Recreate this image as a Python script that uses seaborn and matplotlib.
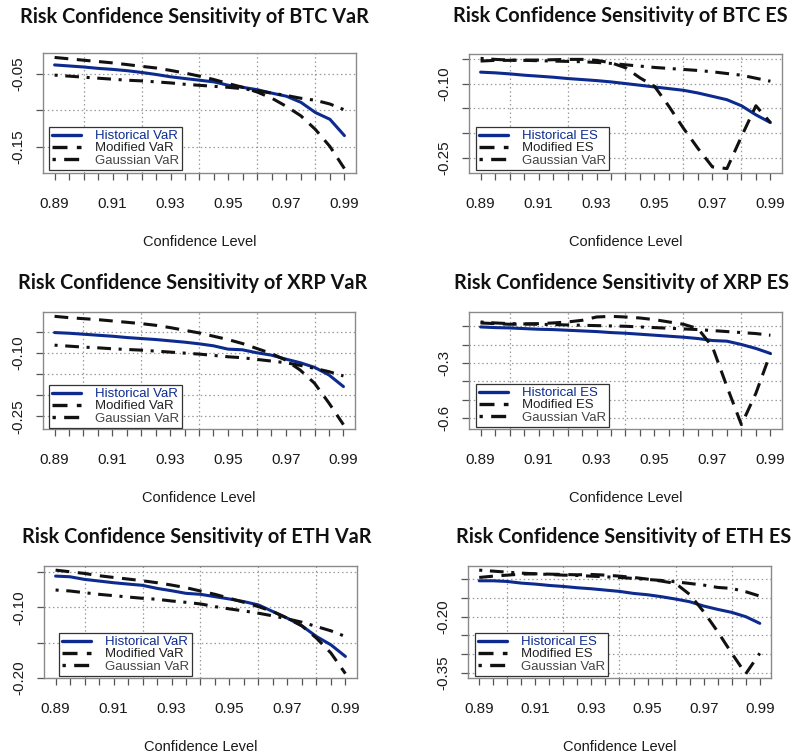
import matplotlib
matplotlib.use("Agg")
import matplotlib.pyplot as plt
import seaborn as sns
import pandas as pd

# ---------------- data ----------------
conf = [0.890, 0.895, 0.900, 0.905, 0.910, 0.915, 0.920, 0.925, 0.930, 0.935, 0.940,
        0.945, 0.950, 0.955, 0.960, 0.965, 0.970, 0.975, 0.980, 0.985, 0.990]

btc_var_hist = [-0.0374, -0.0388, -0.0402, -0.0421, -0.0435, -0.0453, -0.0477, -0.0505, -0.0537, -0.0561, -0.0584,
                -0.0607, -0.0654, -0.0682, -0.0715, -0.0762, -0.0804, -0.0888, -0.1028, -0.1121, -0.1345]
btc_var_mod = [-0.0271, -0.0290, -0.0309, -0.0327, -0.0346, -0.0369, -0.0393, -0.0416, -0.0449, -0.0486, -0.0528,
               -0.0575, -0.0631, -0.0682, -0.0748, -0.0832, -0.0944, -0.1074, -0.1261, -0.1495, -0.1798]
btc_var_gau = [-0.0514, -0.0528, -0.0542, -0.0556, -0.0570, -0.0584, -0.0593, -0.0607, -0.0621, -0.0640, -0.0654,
               -0.0668, -0.0682, -0.0701, -0.0729, -0.0762, -0.0794, -0.0832, -0.0860, -0.0911, -0.0991]

btc_es_hist = [-0.0760, -0.0774, -0.0795, -0.0822, -0.0842, -0.0863, -0.0890, -0.0911, -0.0932, -0.0959, -0.0993,
               -0.1027, -0.1062, -0.1096, -0.1130, -0.1185, -0.1253, -0.1322, -0.1445, -0.1630, -0.1788]
btc_es_mod = [-0.0534, -0.0520, -0.0520, -0.0514, -0.0514, -0.0507, -0.0500, -0.0500, -0.0520, -0.0568, -0.0671,
              -0.0877, -0.1048, -0.1459, -0.1904, -0.2315, -0.2692, -0.2726, -0.2075, -0.1445, -0.1788]
btc_es_gau = [-0.0480, -0.0500, -0.0514, -0.0520, -0.0527, -0.0534, -0.0541, -0.0548, -0.0562, -0.0582, -0.0610,
              -0.0637, -0.0664, -0.0685, -0.0705, -0.0726, -0.0753, -0.0788, -0.0822, -0.0884, -0.0945]

xrp_var_hist = [-0.0524, -0.0540, -0.0563, -0.0587, -0.0610, -0.0641, -0.0665, -0.0688, -0.0719, -0.0750, -0.0789,
                -0.0836, -0.0914, -0.0930, -0.1000, -0.1055, -0.1148, -0.1234, -0.1343, -0.1523, -0.1796]
xrp_var_mod = [-0.0142, -0.0173, -0.0197, -0.0220, -0.0251, -0.0282, -0.0314, -0.0353, -0.0407, -0.0470, -0.0532,
               -0.0610, -0.0688, -0.0782, -0.0899, -0.1016, -0.1172, -0.1406, -0.1718, -0.2186, -0.2693]
xrp_var_gau = [-0.0821, -0.0844, -0.0867, -0.0883, -0.0906, -0.0922, -0.0938, -0.0961, -0.0984, -0.1008, -0.1031,
               -0.1062, -0.1094, -0.1117, -0.1156, -0.1195, -0.1234, -0.1296, -0.1367, -0.1445, -0.1546]

xrp_es_hist = [-0.1036, -0.1072, -0.1090, -0.1126, -0.1162, -0.1180, -0.1216, -0.1252, -0.1288, -0.1342, -0.1378,
               -0.1432, -0.1486, -0.1540, -0.1594, -0.1666, -0.1774, -0.1810, -0.1990, -0.2206, -0.2476]
xrp_es_mod = [-0.0820, -0.0856, -0.0892, -0.0874, -0.0856, -0.0820, -0.0766, -0.0676, -0.0496, -0.0460, -0.0496,
              -0.0550, -0.0640, -0.0766, -0.0892, -0.1126, -0.2116, -0.4276, -0.6346, -0.4636, -0.2476]
xrp_es_gau = [-0.0766, -0.0820, -0.0856, -0.0874, -0.0892, -0.0910, -0.0928, -0.0946, -0.0964, -0.0982, -0.1000,
              -0.1036, -0.1072, -0.1108, -0.1144, -0.1180, -0.1234, -0.1288, -0.1342, -0.1396, -0.1486]

eth_var_hist = [-0.0559, -0.0569, -0.0606, -0.0629, -0.0653, -0.0672, -0.0690, -0.0733, -0.0766, -0.0803, -0.0817,
                -0.0850, -0.0883, -0.0920, -0.0967, -0.1061, -0.1155, -0.1263, -0.1413, -0.1531, -0.1695]
eth_var_mod = [-0.0475, -0.0498, -0.0522, -0.0554, -0.0578, -0.0601, -0.0625, -0.0653, -0.0686, -0.0723, -0.0770,
               -0.0817, -0.0873, -0.0930, -0.0991, -0.1061, -0.1155, -0.1263, -0.1436, -0.1647, -0.1938]
eth_var_gau = [-0.0756, -0.0770, -0.0794, -0.0817, -0.0836, -0.0855, -0.0873, -0.0887, -0.0911, -0.0930, -0.0953,
               -0.0991, -0.1023, -0.1052, -0.1084, -0.1122, -0.1164, -0.1211, -0.1272, -0.1333, -0.1413]

eth_es_hist = [-0.1036, -0.1036, -0.1054, -0.1098, -0.1125, -0.1161, -0.1188, -0.1223, -0.1250, -0.1286, -0.1321,
               -0.1375, -0.1411, -0.1464, -0.1527, -0.1598, -0.1714, -0.1804, -0.1884, -0.2000, -0.2179]
eth_es_mod = [-0.0946, -0.0911, -0.0884, -0.0857, -0.0848, -0.0857, -0.0866, -0.0875, -0.0866, -0.0884, -0.0911,
              -0.0946, -0.0991, -0.1045, -0.1107, -0.1402, -0.1866, -0.2402, -0.2982, -0.3536, -0.2982]
eth_es_gau = [-0.0750, -0.0777, -0.0804, -0.0830, -0.0848, -0.0866, -0.0884, -0.0893, -0.0911, -0.0929, -0.0946,
              -0.0973, -0.1000, -0.1027, -0.1063, -0.1107, -0.1152, -0.1214, -0.1241, -0.1330, -0.1447]

x_label_ticks = [0.89, 0.91, 0.93, 0.95, 0.97, 0.99]
x_grid = [0.90, 0.92, 0.94, 0.96, 0.98]

panels = [
    dict(title="Risk Confidence Sensitivity of BTC VaR", kind="VaR",
         series=(btc_var_hist, btc_var_mod, btc_var_gau),
         yticks=[-0.05, -0.10, -0.15], ylabels=["-0.05", "", "-0.15"]),
    dict(title="Risk Confidence Sensitivity of BTC ES", kind="ES",
         series=(btc_es_hist, btc_es_mod, btc_es_gau),
         yticks=[-0.05, -0.10, -0.15, -0.20, -0.25], ylabels=["", "-0.10", "", "", "-0.25"]),
    dict(title="Risk Confidence Sensitivity of XRP VaR", kind="VaR",
         series=(xrp_var_hist, xrp_var_mod, xrp_var_gau),
         yticks=[-0.05, -0.10, -0.15, -0.20, -0.25], ylabels=["", "-0.10", "", "", "-0.25"]),
    dict(title="Risk Confidence Sensitivity of XRP ES", kind="ES",
         series=(xrp_es_hist, xrp_es_mod, xrp_es_gau),
         yticks=[-0.1, -0.2, -0.3, -0.4, -0.5, -0.6], ylabels=["", "", "-0.3", "", "", "-0.6"]),
    dict(title="Risk Confidence Sensitivity of ETH VaR", kind="VaR",
         series=(eth_var_hist, eth_var_mod, eth_var_gau),
         yticks=[-0.05, -0.10, -0.15, -0.20], ylabels=["", "-0.10", "", "-0.20"]),
    dict(title="Risk Confidence Sensitivity of ETH ES", kind="ES",
         series=(eth_es_hist, eth_es_mod, eth_es_gau),
         yticks=[-0.10, -0.15, -0.20, -0.25, -0.30, -0.35], ylabels=["", "", "-0.20", "", "", "-0.35"]),
]

# ---------------- layout (pixels) ----------------
W, H = 796, 754
boxes = [(43, 53, 356, 173), (469, 54, 782, 173),
         (43, 312, 355, 429), (469, 312, 782, 429),
         (44, 566, 357, 678), (468, 566, 771, 678)]
title_pos = [(194, 17), (620, 16), (193, 283), (621, 283), (197, 537), (624, 537)]
legend_off = [(6, 3), (7, 3), (6, 1), (7, 2), (15, 2), (7, 2)]

sns.set_style("white")
plt.rcParams["font.family"] = ["Liberation Sans", "DejaVu Sans"]

NAVY = "#0d2b8e"
fig = plt.figure(figsize=(W / 100, H / 100), dpi=100)

for p, (l, t, r, b), (tx, ty), (lo_x, lo_y) in zip(panels, boxes, title_pos, legend_off):
    ax = fig.add_axes([l / W, 1 - b / H, (r - l) / W, (b - t) / H])
    hist, mod, gau = p["series"]
    k = p["kind"]
    names = [f"Historical {k}", f"Modified {k}", "Gaussian VaR"]
    df = pd.concat([
        pd.DataFrame({"conf": conf, "value": hist, "Method": names[0]}),
        pd.DataFrame({"conf": conf, "value": mod, "Method": names[1]}),
        pd.DataFrame({"conf": conf, "value": gau, "Method": names[2]}),
    ], ignore_index=True)
    sns.lineplot(data=df, x="conf", y="value", hue="Method", style="Method",
                 palette={names[0]: NAVY, names[1]: "#111111", names[2]: "#111111"},
                 dashes={names[0]: "", names[1]: (4.5, 2.8), names[2]: (1.0, 2.5, 4.5, 2.5)},
                 linewidth=2.2, ax=ax, sort=False, estimator=None, legend="auto")

    allv = list(hist) + list(mod) + list(gau)
    lo, hi = min(allv), max(allv)
    pad = 0.04 * (hi - lo)
    ax.set_ylim(lo - pad, hi + pad)
    ax.set_xlim(0.886, 0.994)

    ax.set_xticks(conf, minor=False)
    ax.set_xticklabels([f"{c:.2f}" if round(c, 3) in x_label_ticks else "" for c in conf])
    ax.set_yticks(p["yticks"])
    ax.set_yticklabels(p["ylabels"], rotation=90, va="center")
    ax.tick_params(axis="both", direction="out", length=5, width=0.9, color="#555555",
                   labelsize=11, labelcolor="#1a1a1a", bottom=True, left=True)
    ax.tick_params(axis="x", pad=12)
    ax.tick_params(axis="y", pad=8)

    for g in x_grid:
        ax.axvline(g, color="#9a9a9a", lw=0.9, ls=(0, (1.2, 2.2)), zorder=0)
    for yv in p["yticks"]:
        ax.axhline(yv, color="#9a9a9a", lw=0.9, ls=(0, (1.2, 2.2)), zorder=0)

    for s in ax.spines.values():
        s.set_color("#8a8a8a")
        s.set_linewidth(1.0)

    ax.set_xlabel("")
    ax.set_ylabel("")
    fig.text(((l + r) / 2) / W, 1 - (b + 69) / H, "Confidence Level",
             ha="center", va="center", fontsize=10.5, color="#1a1a1a")
    fig.text(tx / W, 1 - ty / H, p["title"], ha="center", va="center",
             fontsize=14.3, fontweight="bold", family=["Lato", "DejaVu Sans"], color="#111111")

    handles, labels = ax.get_legend_handles_labels()
    leg = ax.legend(handles, labels, loc="lower left",
                    bbox_to_anchor=(lo_x / (r - l), lo_y / (b - t)),
                    frameon=True, fancybox=False, framealpha=1, edgecolor="#333333",
                    fontsize=9.5, labelspacing=0.0, handlelength=2.2, handletextpad=1.0,
                    borderpad=0.25, borderaxespad=0)
    leg.get_frame().set_linewidth(0.9)
    for txt, c in zip(leg.get_texts(), [NAVY, "#222222", "#444444"]):
        txt.set_color(c)
    for ln in leg.get_lines():
        ln.set_linewidth(2.4)

fig.savefig("out.png", dpi=100)
